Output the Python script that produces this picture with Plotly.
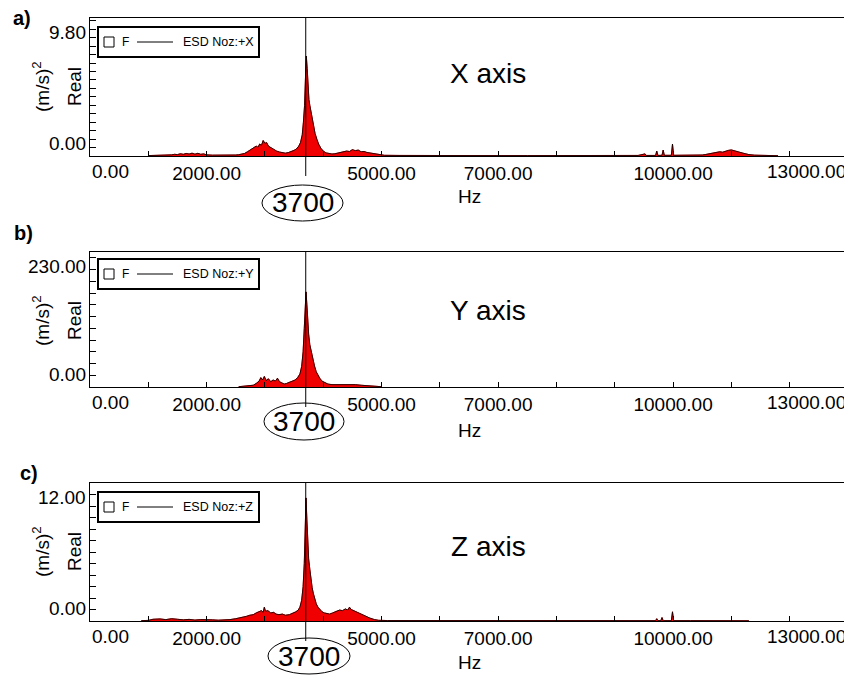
import plotly.graph_objects as go

# ---------------- data ----------------
freq_x = [1000, 1100, 1200, 1300, 1400, 1450, 1500, 1550, 1600, 1650, 1700, 1750, 1800, 1850, 1900, 1950,
          2000, 2100, 2200, 2300, 2400, 2500, 2550, 2600, 2650, 2700, 2750, 2800, 2850, 2880, 2910, 2940,
          2970, 3000, 3030, 3060, 3100, 3150, 3200, 3250, 3300, 3350, 3400, 3450, 3500, 3540, 3580, 3610,
          3640, 3660, 3680, 3695, 3710, 3725, 3740, 3755, 3770, 3790, 3810, 3830, 3860, 3890, 3920, 3960,
          4000, 4050, 4100, 4150, 4200, 4250, 4300, 4350, 4400, 4450, 4500, 4550, 4600, 4650, 4700, 4750,
          4800, 4850, 4900, 4950, 5050, 5300, 5600, 6000, 6500, 7000, 7500, 8000, 8500, 9000, 9400, 9520,
          9540, 9700, 9720, 9740, 9810, 9830, 9850, 9970, 9990, 10010, 10200, 10400, 10500, 10550, 10600,
          10650, 10700, 10750, 10800, 10850, 10900, 10950, 11000, 11050, 11100, 11150, 11200, 11250, 11300,
          11400, 11500, 11650, 11800]
real_x = [0.03, 0.04, 0.05, 0.05, 0.08, 0.12, 0.10, 0.16, 0.12, 0.18, 0.14, 0.20, 0.13, 0.19, 0.12, 0.15,
          0.08, 0.06, 0.05, 0.06, 0.05, 0.07, 0.09, 0.12, 0.18, 0.30, 0.42, 0.55, 0.70, 0.62, 0.85, 0.75,
          1.10, 0.90, 0.95, 0.70, 0.60, 0.45, 0.35, 0.28, 0.22, 0.20, 0.24, 0.30, 0.40, 0.50, 0.70, 0.95,
          1.50, 2.40, 3.60, 5.50, 7.10, 6.20, 4.80, 4.00, 3.60, 3.10, 2.60, 2.10, 1.60, 1.20, 0.85, 0.55,
          0.35, 0.22, 0.16, 0.14, 0.16, 0.20, 0.24, 0.30, 0.35, 0.32, 0.45, 0.38, 0.42, 0.30, 0.32, 0.25,
          0.22, 0.15, 0.12, 0.08, 0.05, 0.04, 0.03, 0.03, 0.03, 0.03, 0.03, 0.03, 0.03, 0.04, 0.04, 0.15,
          0.04, 0.04, 0.35, 0.04, 0.05, 0.42, 0.05, 0.05, 0.85, 0.05, 0.04, 0.05, 0.07, 0.10, 0.13,
          0.17, 0.20, 0.25, 0.30, 0.27, 0.36, 0.40, 0.43, 0.36, 0.33, 0.27, 0.20, 0.15, 0.10,
          0.06, 0.04, 0.03, 0.02]

freq_y = [2550, 2650, 2750, 2800, 2850, 2900, 2930, 2960, 2990, 3020, 3060, 3100, 3140, 3180, 3215, 3250,
          3290, 3330, 3370, 3420, 3470, 3520, 3560, 3600, 3630, 3655, 3675, 3690, 3705, 3720, 3735, 3750,
          3770, 3790, 3810, 3830, 3850, 3880, 3910, 3940, 3980, 4030, 4080, 4150, 4250, 4350, 4450, 4500,
          4550, 4650, 4750, 4850, 4950, 5000]
real_y = [0.5, 1, 2, 3, 6, 10, 16, 12, 18, 11, 14, 9, 12, 10, 15, 9,
          7, 5, 6, 8, 10, 12, 16, 22, 35, 60, 100, 130, 162, 140, 110, 90,
          72, 62, 50, 42, 36, 26, 20, 15, 10, 7, 5, 4, 4, 5, 4, 5,
          4, 3, 2.5, 2, 1, 0.5]

freq_z = [880, 1000, 1080, 1200, 1300, 1400, 1500, 1600, 1700, 1800, 1900, 2000, 2100, 2200, 2300, 2400,
          2500, 2560, 2620, 2680, 2740, 2800, 2850, 2900, 2940, 2970, 2990, 3010, 3050, 3100, 3150, 3190,
          3240, 3300, 3350, 3420, 3480, 3530, 3570, 3600, 3630, 3655, 3675, 3690, 3705, 3720, 3735, 3750,
          3770, 3790, 3810, 3830, 3850, 3880, 3910, 3940, 3980, 4020, 4060, 4110, 4160, 4220, 4280, 4330,
          4380, 4420, 4450, 4480, 4520, 4560, 4600, 4650, 4700, 4750, 4800, 4880, 4950, 5100, 5500, 6000,
          6500, 7000, 7500, 8000, 8500, 9000, 9500, 9700, 9720, 9740, 9790, 9810, 9830, 9970, 9990, 10010,
          10300, 10700, 11000, 11300]
real_z = [0.03, 0.05, 0.15, 0.18, 0.12, 0.20, 0.15, 0.10, 0.14, 0.08, 0.12, 0.08, 0.10, 0.07, 0.09, 0.12,
          0.20, 0.25, 0.30, 0.40, 0.50, 0.55, 0.70, 0.80, 0.90, 0.75, 1.20, 0.85, 0.90, 0.70, 0.75, 0.60,
          0.55, 0.60, 0.50, 0.55, 0.65, 0.80, 0.95, 1.20, 1.80, 3.00, 5.00, 7.50, 10.70, 8.80, 6.50, 5.40,
          4.50, 3.60, 2.90, 2.40, 2.00, 1.50, 1.20, 1.00, 0.80, 0.70, 0.65, 0.60, 0.70, 0.80, 0.95, 0.90,
          1.05, 0.95, 1.20, 1.00, 0.90, 0.85, 0.75, 0.60, 0.50, 0.35, 0.25, 0.12, 0.06, 0.04, 0.04, 0.03,
          0.03, 0.03, 0.03, 0.03, 0.03, 0.03, 0.03, 0.03, 0.20, 0.03, 0.03, 0.30, 0.03, 0.03, 0.80, 0.03,
          0.03, 0.03, 0.03, 0.02]

panel_letters = ["a)", "b)", "c)"]
panel_titles = ["X axis", "Y axis", "Z axis"]
legend_names = ["ESD Noz:+X", "ESD Noz:+Y", "ESD Noz:+Z"]
legend_marker_name = "F"
y_max = [9.8, 230.0, 12.0]
y_max_labels = ["9.80", "230.00", "12.00"]
y_minor_step = [0.6, 20, 1]
x_minor_vals = list(range(0, 14000, 1000))
x_tick_vals = [2000, 5000, 7000, 10000]
x_tick_text = ["2000.00", "5000.00", "7000.00", "10000.00"]
x_end_labels = ["0.00", "13000.00"]
marker_freq = 3700
series = [(freq_x, real_x), (freq_y, real_y), (freq_z, real_z)]

# ---------------- layout helpers ----------------
# the page body has an 8px margin, so the figure is drawn from (8, 8)
OFF = 8
W, H = 852 - OFF, 675 - OFF
def px(x):
    return (x - OFF) / W
def py(y):
    return 1 - (y - OFF) / H

FONT = "Arial, Liberation Sans, sans-serif"
BLACK = "black"
tops = [18, 252, 483]
bottoms = [156, 387, 621]
hz_y = [196, 430, 662]
lab_y = [203, 421, 656]
ell = [(262, 343, 185, 221), (264, 344, 403, 440), (268, 350, 638, 674)]
title_y = [73, 310, 546]
letter_pos = [(22, 18), (23, 233), (29, 473)]
legend_top = [27, 259, 492]
x_px_per_hz = (848 - 90) / 13000.0

fig = go.Figure()
annotations = []
shapes = []

def txt(text, x, y, size=19, xanchor="center", yanchor="middle", **kw):
    d = dict(text=text, xref="paper", yref="paper", x=px(x), y=py(y), xanchor=xanchor,
             yanchor=yanchor, showarrow=False, font=dict(family=FONT, size=size, color=BLACK))
    d.update(kw)
    return d

for i in range(3):
    sfx = "" if i == 0 else str(i + 1)
    xa, ya = "x" + sfx, "y" + sfx
    f, v = series[i]
    # red filled spectrum
    fig.add_trace(go.Scatter(x=f, y=v, mode="lines", fill="tozeroy", fillcolor="rgb(240,0,0)",
                             line=dict(color="rgb(240,0,0)", width=1), showlegend=False,
                             xaxis=xa, yaxis=ya, hoverinfo="skip"))
    # black line
    fig.add_trace(go.Scatter(x=f, y=v, mode="lines", name=legend_names[i], showlegend=False,
                             line=dict(color=BLACK, width=0.8), xaxis=xa, yaxis=ya))

    fig.layout["xaxis" + sfx] = dict(
        domain=[px(90), px(848)], range=[0, 13000], anchor=ya,
        showline=True, mirror=True, linecolor=BLACK, linewidth=1.3,
        showgrid=False, zeroline=False,
        tickmode="array", tickvals=x_tick_vals, ticktext=x_tick_text,
        ticks="inside", ticklen=5, tickcolor=BLACK,
        minor=dict(tickmode="array", tickvals=x_minor_vals, ticks="inside", ticklen=5,
                   tickcolor=BLACK, showgrid=False),
        tickfont=dict(family=FONT, size=19, color=BLACK),
    )
    fig.layout["yaxis" + sfx] = dict(
        domain=[py(bottoms[i]), py(tops[i])], range=[0, y_max[i]], anchor=xa,
        showline=True, mirror=True, linecolor=BLACK, linewidth=1.3,
        showgrid=False, zeroline=False, showticklabels=False,
        tickmode="linear", tick0=0, dtick=y_minor_step[i],
        ticks="inside", ticklen=6, tickcolor=BLACK,
    )

    # y end labels
    annotations.append(dict(text="0.00", xref="paper", x=px(88), xanchor="right",
                            yref=ya, y=0, yanchor="bottom", showarrow=False,
                            font=dict(family=FONT, size=19, color=BLACK)))
    annotations.append(dict(text=y_max_labels[i], xref="paper", x=px(88), xanchor="right",
                            yref=ya, y=y_max[i], yanchor="top", yshift=-2, showarrow=False,
                            font=dict(family=FONT, size=19, color=BLACK)))
    # x end labels
    annotations.append(dict(text=x_end_labels[0], xref=xa, x=0, xanchor="left",
                            yref=ya + " domain", y=0, yanchor="top", yshift=-3, showarrow=False,
                            font=dict(family=FONT, size=19, color=BLACK)))
    annotations.append(dict(text=x_end_labels[1], xref=xa, x=13000, xanchor="right",
                            yref=ya + " domain", y=0, yanchor="top", yshift=-3, showarrow=False,
                            font=dict(family=FONT, size=19, color=BLACK)))
    # axis titles
    cy = tops[i] + 69
    annotations.append(txt("(m/s)<sup>2</sup>", 41, cy, textangle=-90))
    annotations.append(txt("Real", 74, cy, textangle=-90))
    annotations.append(txt("Hz", 469, hz_y[i]))
    annotations.append(txt(panel_titles[i], 488, title_y[i], size=28))
    annotations.append(txt("<b>" + panel_letters[i] + "</b>", letter_pos[i][0], letter_pos[i][1], size=20))

    # legend box (drawn by hand to match the original layout)
    lt = legend_top[i]
    lc = lt + 15
    shapes.append(dict(type="rect", xref="paper", yref="paper", x0=px(98), x1=px(259),
                       y0=py(lt + 30), y1=py(lt), line=dict(color=BLACK, width=2), fillcolor="white"))
    shapes.append(dict(type="rect", xref="paper", yref="paper", x0=px(104), x1=px(114),
                       y0=py(lc + 5), y1=py(lc - 5), line=dict(color=BLACK, width=1)))
    shapes.append(dict(type="line", xref="paper", yref="paper", x0=px(137), x1=px(173),
                       y0=py(lc), y1=py(lc), line=dict(color=BLACK, width=1)))
    annotations.append(txt(legend_marker_name, 120, lc, size=12, xanchor="left"))
    annotations.append(txt(legend_names[i], 181, lc, size=12.5, xanchor="left"))

    # 3700 marker
    x0, x1, y0, y1 = ell[i]
    cx = (x0 + x1) / 2
    annotations.append(dict(text=str(marker_freq), xref=xa, x=marker_freq,
                            xshift=cx - (90 + marker_freq * x_px_per_hz), xanchor="center",
                            yref="paper", y=py(lab_y[i]), yanchor="middle", showarrow=False,
                            font=dict(family=FONT, size=28, color=BLACK)))
    shapes.append(dict(type="circle", xref="paper", yref="paper",
                       x0=px(x0), x1=px(x1), y0=py(y1), y1=py(y0),
                       line=dict(color=BLACK, width=1)))
    shapes.append(dict(type="line", xref=xa, yref="paper", x0=marker_freq, x1=marker_freq,
                       y0=py(bottoms[i] + 20), y1=py(tops[i]),
                       line=dict(color=BLACK, width=1)))

fig.update_layout(
    width=W, height=H, margin=dict(l=0, r=0, t=0, b=0),
    paper_bgcolor="white", plot_bgcolor="white",
    annotations=annotations, shapes=shapes, showlegend=False,
    font=dict(family=FONT, color=BLACK),
)

fig.write_html("out.html")
